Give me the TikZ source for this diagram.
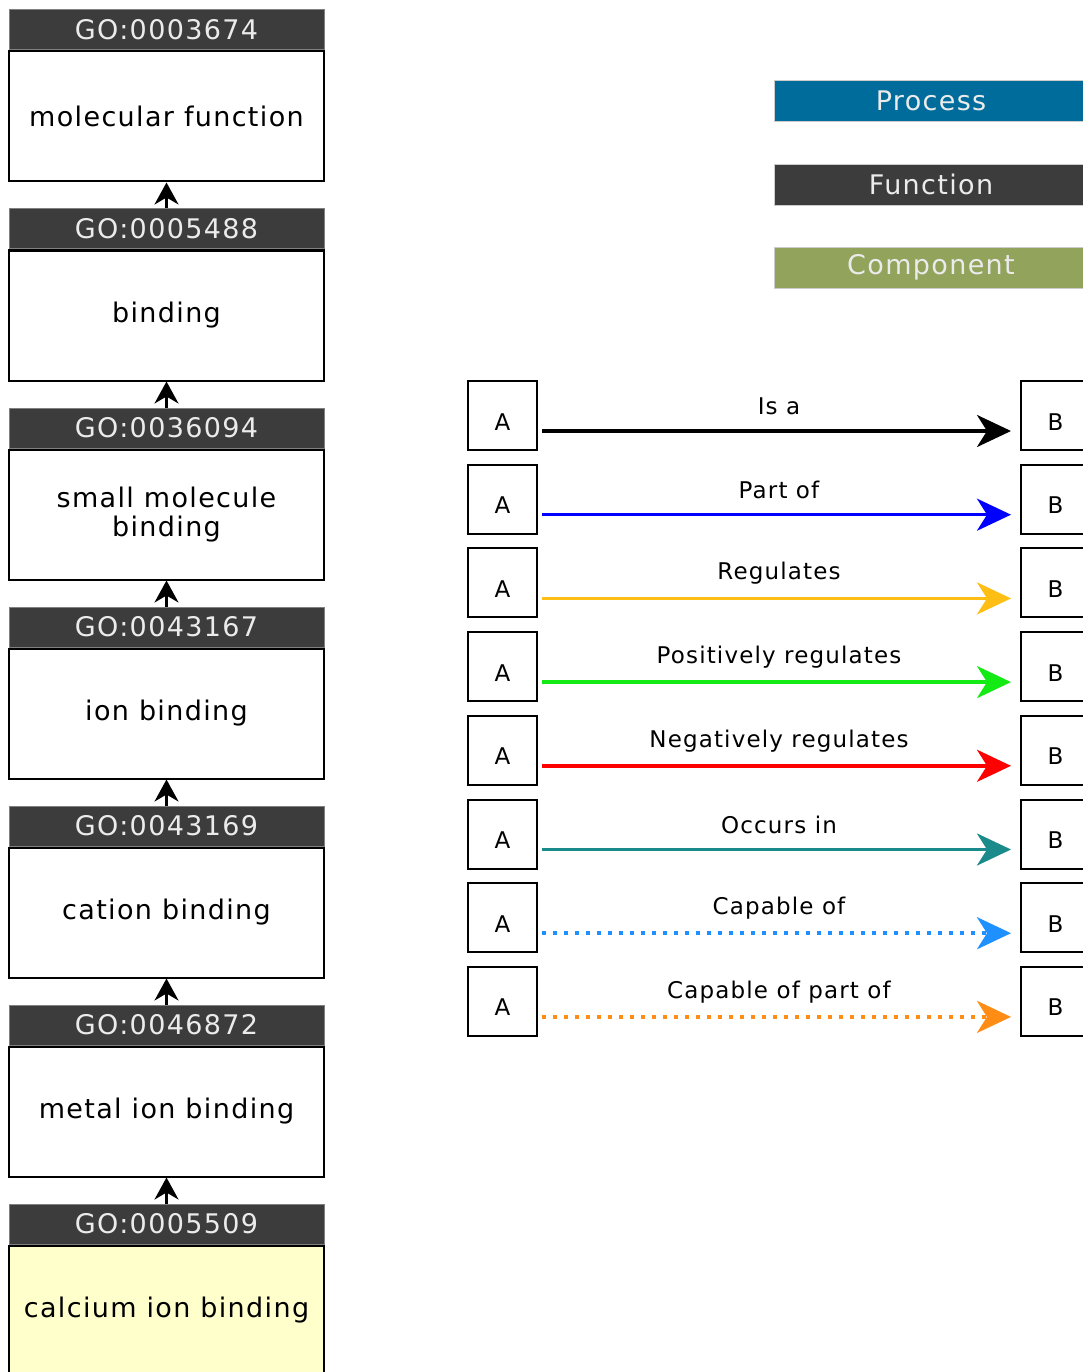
\documentclass[tikz,border=0pt]{standalone}
\usepackage{fontspec}
\setmainfont{DejaVu Sans}[LetterSpace=5]
\usepackage{tikz}
\usetikzlibrary{arrows.meta,positioning}

\definecolor{hdrgray}{RGB}{60,60,60}
\definecolor{procblue}{RGB}{0,108,155}
\definecolor{compgreen}{RGB}{146,163,92}
\definecolor{termyellow}{RGB}{255,255,204}
\definecolor{regyellow}{RGB}{255,190,20}
\definecolor{posgreen}{RGB}{20,235,20}
\definecolor{occteal}{RGB}{27,138,138}
\definecolor{capblue}{RGB}{30,144,255}
\definecolor{caporange}{RGB}{255,140,20}

\tikzset{
  gohead/.style={fill=hdrgray, draw=gray, line width=1pt, text=black!8,
    minimum width=315pt, minimum height=40pt, inner sep=0pt,
    font=\fontsize{27}{29}\selectfont},
  gobody/.style={draw=black, line width=2pt, fill=white,
    minimum width=315pt, minimum height=130pt, inner sep=0pt,
    align=center, font=\fontsize{27}{29}\selectfont},
  isup/.style={-{Stealth[length=22pt,width=24pt,inset=7pt]}, line width=2.5pt},
  legbar/.style={minimum width=314pt, minimum height=41pt, inner sep=0pt,
    draw=black!20, text=black!8, font=\fontsize{27}{29}\selectfont},
  relbox/.style={draw=black, line width=2pt, minimum size=69pt, inner sep=0pt,
    text height=29pt, text depth=0pt, font=\fontsize{23}{25}\selectfont},
  relarrow/.style={-{Stealth[length=34pt,width=32pt,inset=10pt]}, line width=3.5pt,
    shorten <=4pt, shorten >=9pt},
  dots/.style={dash pattern=on 4pt off 7pt}
}

\begin{document}
\begin{tikzpicture}[x=1pt, y=-1pt]
  \useasboundingbox (0,0) rectangle (1083,1372);
  \clip (0,0) rectangle (1083,1372);

  % GO term chain
  \foreach \goid/\term [count=\i] in {%
      0003674/molecular function,
      0005488/binding,
      0036094/small molecule\\binding,
      0043167/ion binding,
      0043169/cation binding,
      0046872/metal ion binding,
      0005509/calcium ion binding} {
    \node[gohead] (h\i) at (166.5, {30+199*(\i-1)}) {GO:\goid};
    \node[gobody, below=0pt of h\i] (b\i) {\term};
  }
  \node[gobody, fill=termyellow, below=0pt of h7] (b7) {calcium ion binding};
  \foreach \i in {2,...,7} {
    \pgfmathtruncatemacro\prev{\i-1}
    \draw[isup] (h\i.north) -- (b\prev.south);
  }

  % ontology legend
  \node[legbar, fill=procblue]  (proc) at (931,100.5) {Process};
  \node[legbar, fill=hdrgray]   (func) at (931,184.5) {Function};
  \node[legbar, fill=compgreen] (comp) at (931,267.5) {Component};

  % relation legend
  \foreach \lab/\col/\sty [count=\r] in {%
      Is a/black/solid,
      Part of/blue/solid,
      Regulates/regyellow/solid,
      Positively regulates/posgreen/solid,
      Negatively regulates/red/solid,
      Occurs in/occteal/solid,
      Capable of/capblue/dots,
      Capable of part of/caporange/dots} {
    \node[relbox] (a\r) at (502.5, {415.5+83.7*(\r-1)}) {A};
    \node[relbox] (z\r) at (1055.5, {415.5+83.7*(\r-1)}) {B};
    \draw[relarrow, \col, \sty] ([yshift=-15.5pt]a\r.east) -- ([yshift=-15.5pt]z\r.west)
      node[midway, yshift=25pt, text=black, font=\fontsize{23}{25}\selectfont] {\lab};
  }
\end{tikzpicture}
\end{document}
